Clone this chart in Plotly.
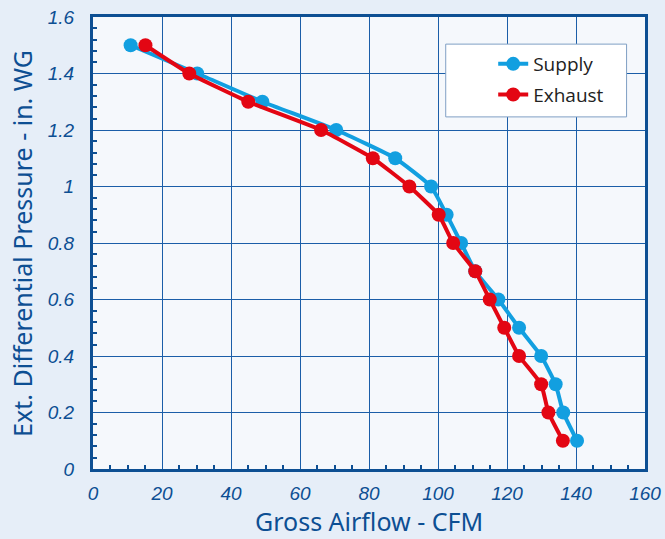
import plotly.graph_objects as go

pressure = [1.5, 1.4, 1.3, 1.2, 1.1, 1.0, 0.9, 0.8, 0.7, 0.6, 0.5, 0.4, 0.3, 0.2, 0.1]
supply_cfm = [10.9, 30.2, 49.1, 70.5, 87.6, 98.0, 102.5, 106.7, 110.8, 117.5, 123.5, 129.9, 134.1, 136.3, 140.3]
exhaust_cfm = [15.2, 27.9, 45.0, 66.1, 81.1, 91.7, 100.2, 104.4, 110.8, 115.0, 119.2, 123.5, 129.9, 132.0, 136.2]
x_title = "Gross Airflow - CFM"
y_title = "Ext. Differential Pressure - in. WG"

BLUE = "#129fe0"
RED = "#e30613"
NAVY = "#0d4f93"
GRID = "#1b5ea8"

fig = go.Figure()
fig.add_trace(go.Scatter(x=supply_cfm, y=pressure, name="Supply", mode="lines+markers",
                         legendgroup="s",
                         line=dict(color=BLUE, width=4, shape="spline", smoothing=0.4),
                         marker=dict(color=BLUE, size=14)))
fig.add_trace(go.Scatter(x=exhaust_cfm, y=pressure, name="Exhaust", mode="lines+markers",
                         legendgroup="e",
                         line=dict(color=RED, width=4, shape="spline", smoothing=0.4),
                         marker=dict(color=RED, size=14)))

tickfont = dict(family="Liberation Sans, Arial", size=19, color=NAVY, style="italic")

# legend box background (px-derived paper fractions of plot area)
fig.add_shape(type="rect", xref="paper", yref="paper", x0=0.639, x1=0.9666, y0=0.779, y1=0.940,
              fillcolor="white", line=dict(color="#7f9fc4", width=1), layer="above")

fig.add_annotation(text=x_title, xref="paper", yref="paper", x=0.5, y=-0.116,
                   xanchor="center", yanchor="middle", showarrow=False,
                   font=dict(family="Noto Sans, Open Sans", size=25, color=NAVY))
fig.add_annotation(text=y_title, xref="paper", yref="paper", x=-0.1286, y=0.498,
                   xanchor="center", yanchor="middle", showarrow=False, textangle=-90,
                   font=dict(family="Noto Sans, Open Sans", size=25, color=NAVY))

fig.update_layout(
    width=665, height=539, autosize=False,
    margin=dict(l=93, r=20, t=17, b=70, autoexpand=False),
    paper_bgcolor="#e6eef8",
    plot_bgcolor="#f5f8fc",
    showlegend=True,
    legend=dict(x=0.725, y=0.938, xanchor="left", yanchor="top",
                bgcolor="rgba(0,0,0,0)", borderwidth=0, tracegroupgap=3,
                font=dict(family="Open Sans, Lato", size=19, color="#222222")),
    xaxis=dict(range=[0, 160], dtick=20, tick0=0, automargin=False,
               showgrid=True, gridcolor=GRID, gridwidth=1.2,
               showline=True, linecolor=NAVY, linewidth=3, mirror=True,
               ticks="", tickfont=tickfont, ticklabelstandoff=5,
               zeroline=False,
               minor=dict(dtick=5, ticks="inside", ticklen=4, tickcolor=NAVY, tickwidth=2, showgrid=False)),
    yaxis=dict(range=[0, 1.6], dtick=0.2, tick0=0, automargin=False,
               showgrid=True, gridcolor=GRID, gridwidth=1.2,
               showline=True, linecolor=NAVY, linewidth=3, mirror=True,
               ticks="", tickfont=tickfont, ticklabelstandoff=12,
               zeroline=False,
               minor=dict(dtick=0.04, ticks="inside", ticklen=4, tickcolor=NAVY, tickwidth=2, showgrid=False)),
)

fig.write_html("out.html",
               config={"displayModeBar": False, "responsive": False},
               post_script="document.body.style.margin='0';document.body.style.background='#e6eef8';")
